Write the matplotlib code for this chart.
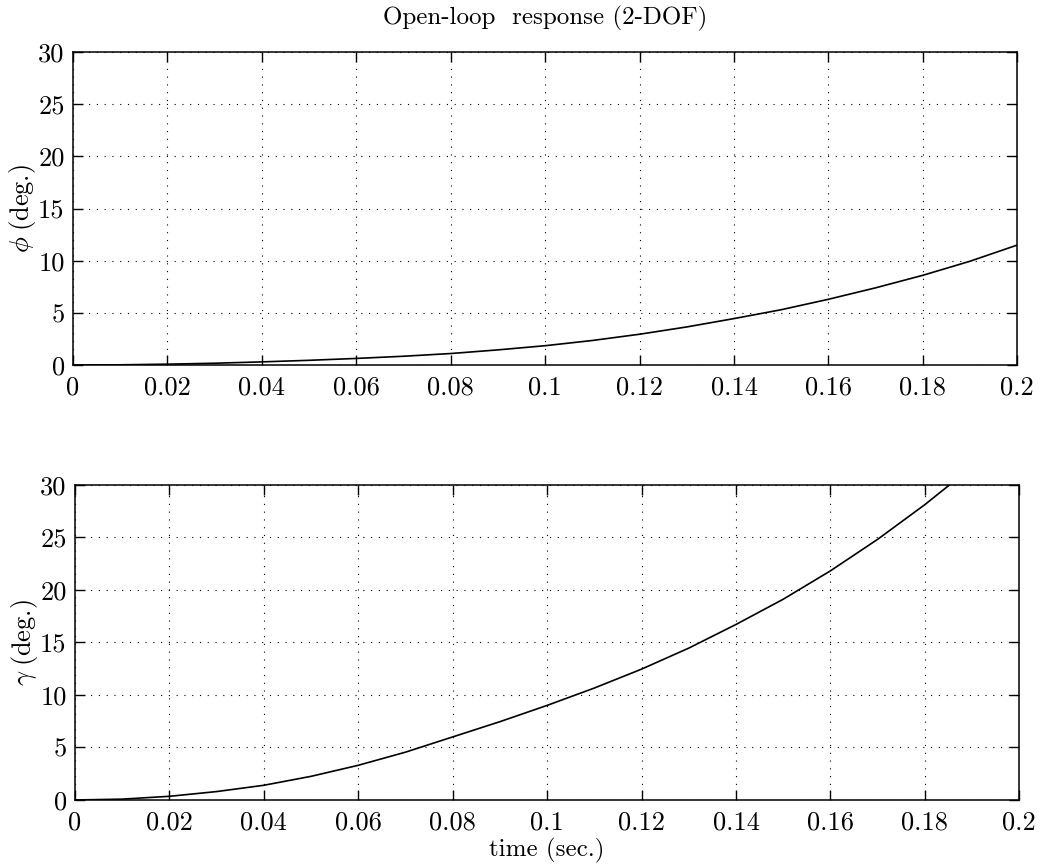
import matplotlib
matplotlib.use("Agg")
import matplotlib.pyplot as plt

plt.rcParams['font.family'] = ['cmr10', 'DejaVu Serif']
plt.rcParams['mathtext.fontset'] = 'cm'
plt.rcParams['axes.formatter.use_mathtext'] = True

time = [0.00, 0.01, 0.02, 0.03, 0.04, 0.05, 0.06, 0.07, 0.08, 0.09, 0.10,
        0.11, 0.12, 0.13, 0.14, 0.15, 0.16, 0.17, 0.18, 0.19, 0.20]
phi = [0.0, 0.02, 0.08, 0.17, 0.30, 0.45, 0.63, 0.84, 1.1, 1.45, 1.85,
       2.35, 2.95, 3.65, 4.45, 5.3, 6.3, 7.4, 8.6, 9.95, 11.5]
gamma = [0.0, 0.08, 0.35, 0.8, 1.4, 2.25, 3.3, 4.55, 6.0, 7.45, 9.0,
         10.65, 12.45, 14.45, 16.7, 19.1, 21.8, 24.8, 28.1, 31.7, 35.6]

xticks = [0, 0.02, 0.04, 0.06, 0.08, 0.1, 0.12, 0.14, 0.16, 0.18, 0.2]
xticklabels = ["0", "0.02", "0.04", "0.06", "0.08", "0.1", "0.12", "0.14", "0.16", "0.18", "0.2"]
yticks = [0, 5, 10, 15, 20, 25, 30]
yticklabels = ["0", "5", "10", "15", "20", "25", "30"]

fig = plt.figure(figsize=(10.4, 8.67), dpi=100)
ax1 = fig.add_axes([0.0702, 0.579, 0.908, 0.361])
ax2 = fig.add_axes([0.0721, 0.0773, 0.908, 0.3637])

for ax, y, lab in [(ax1, phi, r"$\phi\;$(deg.)"), (ax2, gamma, r"$\gamma\;$(deg.)")]:
    ax.plot(time, y, color="black", linewidth=1.2)
    ax.set_xlim(0, 0.2)
    ax.set_ylim(0, 30)
    ax.set_xticks(xticks)
    ax.set_xticklabels(xticklabels)
    ax.set_yticks(yticks)
    ax.set_yticklabels(yticklabels)
    ax.tick_params(direction="in", length=7, width=1.0, top=True, right=True,
                   labelsize=19, pad=6)
    ax.tick_params(axis="x", pad=8)
    ax.grid(True, color="black", linestyle=(0, (1, 6)), linewidth=0.8)
    for s in ax.spines.values():
        s.set_linewidth(1.1)
    ax.set_ylabel(lab, fontsize=19, labelpad=0)

ax1.set_title("Open-loop  response (2-DOF)", fontsize=18, pad=20)
ax2.set_xlabel("time (sec.)", fontsize=18, labelpad=2)

fig.savefig("out.png", dpi=100)
